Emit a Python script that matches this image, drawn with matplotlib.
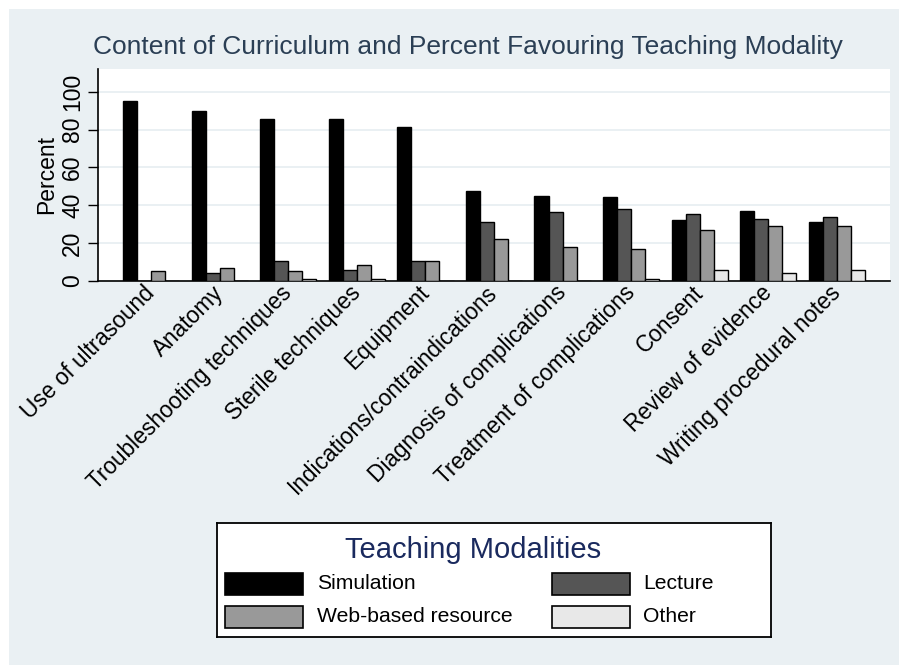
import matplotlib.pyplot as plt
from matplotlib.patches import Rectangle
import numpy as np

plt.rcParams['font.family'] = ['Liberation Sans', 'DejaVu Sans']

topics = ['Use of ultrasound', 'Anatomy', 'Troubleshooting techniques',
          'Sterile techniques', 'Equipment', 'Indications/contraindications',
          'Diagnosis of complications', 'Treatment of complications',
          'Consent', 'Review of evidence', 'Writing procedural notes']
simulation = [95.0, 89.9, 85.7, 85.7, 81.4, 47.5, 45.1, 44.2, 32.0, 37.1, 31.1]
lecture = [0.0, 4.1, 10.4, 6.0, 10.4, 31.1, 36.2, 38.0, 35.3, 32.9, 33.6]
web = [5.3, 6.7, 5.3, 8.7, 10.4, 22.3, 18.0, 17.1, 26.7, 29.3, 29.3]
other = [0.0, 0.0, 1.1, 1.1, 0.0, 0.0, 0.0, 0.9, 6.0, 4.4, 6.0]

series = ['Simulation', 'Lecture', 'Web-based resource', 'Other']
colors = ['#000000', '#555555', '#999999', '#e8e8e8']
bg = '#eaf0f3'

W, H = 899, 665
fig = plt.figure(figsize=(W / 100, H / 100), dpi=100)
fig.patch.set_facecolor('white')
fig.patches.append(Rectangle((9 / W, 0), 1, 1 - 9 / H, transform=fig.transFigure,
                             facecolor=bg, edgecolor='none', zorder=-10))

ax = fig.add_axes([98 / W, 1 - 281 / H, (890 - 98) / W, (281 - 69) / H])
ax.set_facecolor('white')

x = np.arange(len(topics))
w = 0.205
for k, vals in enumerate([simulation, lecture, web, other]):
    ax.bar(x + (k - 1.5) * w, vals, width=w, color=colors[k],
           edgecolor='black', linewidth=1.0, label=series[k], zorder=3)

ax.set_xlim(-0.776, len(topics) - 1 + 0.776)
ax.set_ylim(0, 112)
ax.set_yticks([0, 20, 40, 60, 80, 100])
ax.set_yticklabels(['0', '20', '40', '60', '80', '100'], rotation=90, va='center',
                   fontsize=16.5)
ax.yaxis.grid(True, color='#e6eef1', linewidth=1.2, zorder=0)
ax.tick_params(axis='y', length=7, width=1, pad=3)
ax.set_ylabel('Percent', fontsize=16.5, labelpad=2)

ax.set_xticks(x)
ax.set_xticklabels(topics, rotation=45, ha='right', rotation_mode='anchor',
                   fontsize=16.3)
ax.tick_params(axis='x', length=0, pad=6)
for lab in ax.get_xticklabels():
    lab.set_va('center')

for side in ['top', 'right']:
    ax.spines[side].set_visible(False)
ax.spines['left'].set_linewidth(1.2)
ax.spines['bottom'].set_linewidth(1.2)

fig.text(468 / W, 1 - 47 / H, 'Content of Curriculum and Percent Favouring Teaching Modality',
         ha='center', va='center', fontsize=19, color='#2b3f55')

# legend box
lax = fig.add_axes([217 / W, 1 - 637 / H, (771 - 217) / W, (637 - 523) / H])
lax.set_xlim(217, 771)
lax.set_ylim(637, 523)
lax.set_xticks([])
lax.set_yticks([])
lax.set_facecolor('white')
for s in lax.spines.values():
    s.set_linewidth(1.3)
lax.text(473, 550, 'Teaching Modalities', ha='center', va='center',
         fontsize=21, color='#1a2a5e')
slots = [(225, 573, 317), (552, 573, 643), (225, 606, 317), (552, 606, 643)]
for k, (sx, sy, tx) in enumerate(slots):
    lax.add_patch(Rectangle((sx, sy), 78, 22, facecolor=colors[k],
                            edgecolor='black', linewidth=1.2))
    lax.text(tx, sy + 11, series[k], ha='left', va='center', fontsize=15.2)

fig.savefig('out.png', dpi=100)
